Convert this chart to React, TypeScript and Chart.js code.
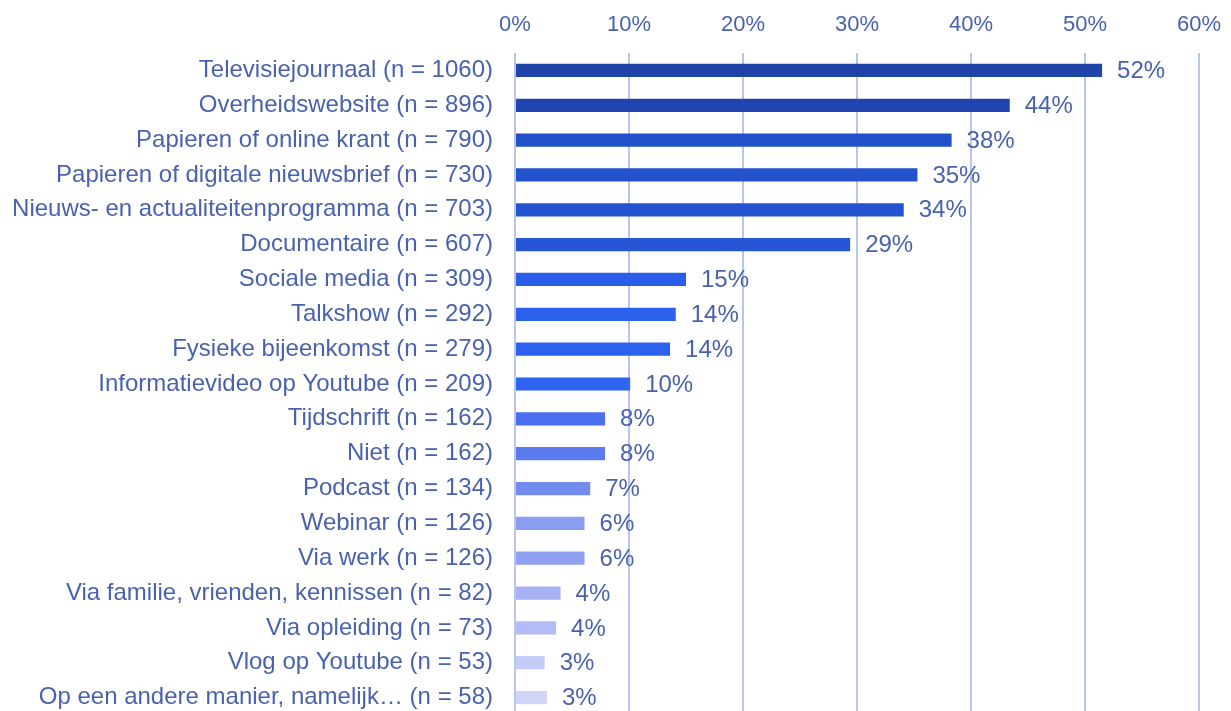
import React, { useEffect, useRef } from "react";
import { Chart, registerables } from "chart.js";

Chart.register(...registerables);

const categories: string[] = [
  "Televisiejournaal (n = 1060)",
  "Overheidswebsite (n = 896)",
  "Papieren of online krant (n = 790)",
  "Papieren of digitale nieuwsbrief (n = 730)",
  "Nieuws- en actualiteitenprogramma (n = 703)",
  "Documentaire (n = 607)",
  "Sociale media (n = 309)",
  "Talkshow (n = 292)",
  "Fysieke bijeenkomst (n = 279)",
  "Informatievideo op Youtube (n = 209)",
  "Tijdschrift (n = 162)",
  "Niet (n = 162)",
  "Podcast (n = 134)",
  "Webinar (n = 126)",
  "Via werk (n = 126)",
  "Via familie, vrienden, kennissen (n = 82)",
  "Via opleiding (n = 73)",
  "Vlog op Youtube (n = 53)",
  "Op een andere manier, namelijk… (n = 58)",
];

const values: number[] = [
  51.5, 43.4, 38.3, 35.3, 34.1, 29.4, 15.0, 14.1, 13.6, 10.1, 7.9, 7.9, 6.6,
  6.1, 6.1, 4.0, 3.6, 2.6, 2.8,
];

const valueLabels: string[] = [
  "52%", "44%", "38%", "35%", "34%", "29%", "15%", "14%", "14%", "10%", "8%",
  "8%", "7%", "6%", "6%", "4%", "4%", "3%", "3%",
];

const barColors: string[] = [
  "#1f43a8", "#2045b0", "#2250c8", "#2352cc", "#2454d2", "#2656d6", "#2a5ee8",
  "#2b60ec", "#2c62ee", "#2e64f0", "#4a6ef0", "#5a7bf0", "#728bee", "#8c9ef1",
  "#8fa1f1", "#a8b2f4", "#b4bcf5", "#c5cbf7", "#d0d5f8",
];

const xTicks: number[] = [0, 10, 20, 30, 40, 50, 60];

const TEXT = "#4862ae";
const GRID = "#b7c6ea";
const FONT = "'Liberation Sans', Arial, sans-serif";

export default function App() {
  const ref = useRef<HTMLCanvasElement | null>(null);

  useEffect(() => {
    if (!ref.current) return;
    const labelPlugin = {
      id: "valueLabels",
      afterDatasetsDraw(chart: any) {
        const ctx = chart.ctx;
        const meta = chart.getDatasetMeta(0);
        ctx.save();
        ctx.font = `24px ${FONT}`;
        ctx.fillStyle = TEXT;
        ctx.textAlign = "left";
        ctx.textBaseline = "middle";
        meta.data.forEach((bar: any, i: number) => {
          ctx.fillText(valueLabels[i], bar.x + 15, bar.y + 1);
        });
        ctx.restore();
      },
    };
    const chart = new Chart(ref.current, {
      type: "bar",
      data: {
        labels: categories,
        datasets: [
          {
            data: values,
            backgroundColor: barColors,
            barPercentage: 0.38,
            categoryPercentage: 1,
          },
        ],
      },
      options: {
        indexAxis: "y",
        responsive: false,
        animation: false,
        layout: { padding: { left: 0, right: 32, top: 0, bottom: 0 } },
        plugins: { legend: { display: false }, tooltip: { enabled: false } },
        scales: {
          x: {
            position: "top",
            min: 0,
            max: 60,
            afterBuildTicks: (scale: any) => {
              scale.ticks = xTicks.map((v) => ({ value: v }));
            },
            afterFit: (scale: any) => {
              scale.height = 53;
              scale.paddingLeft = 0;
              scale.paddingRight = 0;
            },
            ticks: {
              stepSize: 10,
              color: TEXT,
              font: { size: 22, family: FONT },
              padding: 15,
              callback: (v: any) => `${v}%`,
            },
            grid: { color: GRID, lineWidth: 2, drawTicks: false },
            border: { display: false },
          },
          y: {
            afterFit: (scale: any) => {
              scale.width = 515;
              scale.paddingTop = 0;
              scale.paddingBottom = 0;
            },
            ticks: {
              color: TEXT,
              font: { size: 24, family: FONT },
              padding: 22,
              autoSkip: false,
            },
            grid: { display: false, drawTicks: false },
            border: { display: false },
          },
        },
      },
      plugins: [labelPlugin],
    });
    return () => chart.destroy();
  }, []);

  return (
    <div style={{ position: "fixed", left: 0, top: 0, width: 1231, height: 715, background: "#fff" }}>
      <canvas ref={ref} width={1231} height={715} style={{ display: "block" }} />
    </div>
  );
}
